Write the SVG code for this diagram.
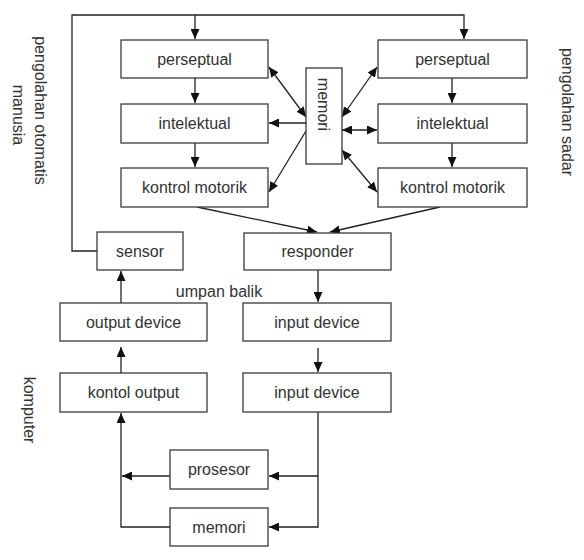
<svg xmlns="http://www.w3.org/2000/svg" width="584" height="560" viewBox="0 0 584 560">
<style>
.box rect{fill:#fff;stroke:#3a3a3a;stroke-width:1.3}
.box text,.lbl{font-family:"Liberation Sans",Arial,sans-serif;font-size:16px;fill:#333;text-anchor:middle}
.c{fill:none;stroke:#222;stroke-width:1.3}
</style>
<defs>
<marker id="a" markerUnits="userSpaceOnUse" markerWidth="11" markerHeight="9" refX="10" refY="4.5" orient="auto-start-reverse"><path d="M0,0 L10,4.5 L0,9 z" fill="#111"/></marker>
</defs>
<rect width="584" height="560" fill="#fff"/>
<g id="connectors">
<polyline class="c" points="97,251 72,251 72,15 464,15 464,39" marker-end="url(#a)"/>
<line class="c" x1="195" y1="15" x2="195" y2="39" marker-end="url(#a)"/>
<line class="c" x1="195" y1="78" x2="195" y2="103" marker-end="url(#a)"/>
<line class="c" x1="195" y1="143" x2="195" y2="167" marker-end="url(#a)"/>
<line class="c" x1="452" y1="78" x2="452" y2="103" marker-end="url(#a)"/>
<line class="c" x1="452" y1="143" x2="452" y2="167" marker-end="url(#a)"/>
<line class="c" x1="269" y1="67" x2="306" y2="117" marker-start="url(#a)" marker-end="url(#a)"/>
<line class="c" x1="306" y1="123" x2="269" y2="123" marker-end="url(#a)"/>
<line class="c" x1="306" y1="131" x2="269" y2="192" marker-end="url(#a)"/>
<line class="c" x1="342" y1="117" x2="377" y2="67" marker-start="url(#a)" marker-end="url(#a)"/>
<line class="c" x1="342" y1="130" x2="377" y2="130" marker-start="url(#a)" marker-end="url(#a)"/>
<line class="c" x1="342" y1="150" x2="377" y2="192" marker-start="url(#a)" marker-end="url(#a)"/>
<line class="c" x1="197" y1="207" x2="317" y2="232" marker-end="url(#a)"/>
<line class="c" x1="440" y1="207" x2="330" y2="232" marker-end="url(#a)"/>
<line class="c" x1="318" y1="270" x2="318" y2="302" marker-end="url(#a)"/>
<line class="c" x1="318" y1="348" x2="318" y2="372" marker-end="url(#a)"/>
<line class="c" x1="121" y1="303" x2="121" y2="271" marker-end="url(#a)"/>
<line class="c" x1="121" y1="373" x2="121" y2="347" marker-end="url(#a)"/>
<polyline class="c" points="318,412 318,527 269,527" marker-end="url(#a)"/>
<line class="c" x1="318" y1="476" x2="269" y2="476" marker-end="url(#a)"/>
<line class="c" x1="170" y1="476" x2="122" y2="476" marker-end="url(#a)"/>
<polyline class="c" points="170,527 121,527 121,413" marker-end="url(#a)"/>
</g>
<g id="perseptual-left" class="box"><rect x="121" y="40" width="147" height="38"/><text x="194.5" y="59" dy="0.35em">perseptual</text></g>
<g id="intelektual-left" class="box"><rect x="121" y="104" width="147" height="39"/><text x="194.5" y="123.5" dy="0.35em">intelektual</text></g>
<g id="kontrol-left" class="box"><rect x="121" y="168" width="147" height="39"/><text x="194.5" y="187.5" dy="0.35em">kontrol motorik</text></g>
<g id="perseptual-right" class="box"><rect x="378" y="40" width="149" height="38"/><text x="452.5" y="59" dy="0.35em">perseptual</text></g>
<g id="intelektual-right" class="box"><rect x="378" y="104" width="149" height="39"/><text x="452.5" y="123.5" dy="0.35em">intelektual</text></g>
<g id="kontrol-right" class="box"><rect x="378" y="168" width="149" height="39"/><text x="452.5" y="187.5" dy="0.35em">kontrol motorik</text></g>
<g id="memori-top" class="box"><rect x="306" y="68" width="36" height="96"/><text x="324" y="104.5" dy="0.35em" transform="rotate(90 324 104.5)">memori</text></g>
<g id="sensor" class="box"><rect x="97" y="232" width="86" height="38"/><text x="140" y="251" dy="0.35em">sensor</text></g>
<g id="responder" class="box"><rect x="244" y="233" width="147" height="37"/><text x="317.5" y="251.5" dy="0.35em">responder</text></g>
<g id="output-device" class="box"><rect x="60" y="303" width="147" height="38"/><text x="133.5" y="322" dy="0.35em">output device</text></g>
<g id="input-device-1" class="box"><rect x="243" y="303" width="148" height="38"/><text x="317" y="322" dy="0.35em">input device</text></g>
<g id="kontol-output" class="box"><rect x="60" y="373" width="147" height="39"/><text x="133.5" y="392.5" dy="0.35em">kontol output</text></g>
<g id="input-device-2" class="box"><rect x="243" y="373" width="148" height="39"/><text x="317" y="392.5" dy="0.35em">input device</text></g>
<g id="prosesor" class="box"><rect x="170" y="450" width="98" height="39"/><text x="219" y="469.5" dy="0.35em">prosesor</text></g>
<g id="memori-bottom" class="box"><rect x="170" y="508" width="98" height="38"/><text x="219" y="527" dy="0.35em">memori</text></g>
<g id="labels">
<text class="lbl" x="219" y="291" dy="0.35em">umpan balik</text>
<text class="lbl" x="41" y="110.5" dy="0.35em" transform="rotate(90 41 110.5)">pengolahan otomatis</text>
<text class="lbl" x="18.5" y="115" dy="0.35em" transform="rotate(90 18.5 115)">manusia</text>
<text class="lbl" x="568" y="112" dy="0.35em" transform="rotate(90 568 112)">pengolahan sadar</text>
<text class="lbl" x="30" y="410" dy="0.35em" transform="rotate(90 30 410)">komputer</text>
</g>
</svg>
